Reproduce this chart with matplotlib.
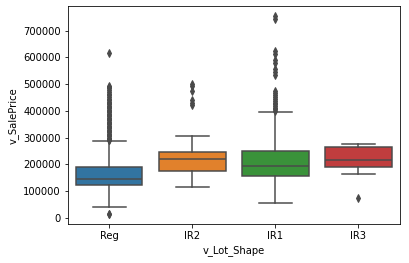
import matplotlib
matplotlib.use('Agg')
import matplotlib.pyplot as plt

# lot shape categories and box statistics of SalePrice
categories = ['Reg', 'IR2', 'IR1', 'IR3']
colors = ['#3274a1', '#e1812c', '#3a923a', '#c03d3e']
q1 = [122000, 177000, 156000, 190000]
med = [147000, 220000, 194000, 215000]
q3 = [190000, 247000, 252000, 265000]
whislo = [40000, 115000, 56000, 164000]
whishi = [287000, 306000, 395000, 278000]

fliers_reg = [12789, 16000, 615000, 495000, 490000, 485000, 478000, 470000, 465000,
              460000, 452000, 445000, 440000, 435000, 430000, 425000, 420000, 415000,
              410000, 405000, 400000, 395000, 390000, 385000, 380000, 375000, 370000,
              365000, 360000, 355000, 350000, 345000, 340000, 335000, 330000, 325000,
              320000, 315000, 310000, 305000, 300000, 296000, 292000, 290000]
fliers_ir2 = [502000, 495000, 475000, 440000, 430000, 423000]
fliers_ir1 = [755000, 745000, 625000, 612000, 590000, 580000, 555000, 545000, 535000,
              475000, 468000, 460000, 452000, 445000, 438000, 430000, 424000, 418000,
              412000, 406000, 400000]
fliers_ir3 = [75000]
fliers = [fliers_reg, fliers_ir2, fliers_ir1, fliers_ir3]

stats = []
for i, c in enumerate(categories):
    stats.append(dict(label=c, q1=q1[i], med=med[i], q3=q3[i],
                      whislo=whislo[i], whishi=whishi[i], fliers=fliers[i]))

gray = '#4a4a4a'
fig = plt.figure(figsize=(409/72, 263/72), dpi=72)
ax = fig.add_axes([0.1655, 0.147, 0.8125, 0.830])

bp = ax.bxp(stats, positions=range(len(categories)), widths=0.8, patch_artist=True,
            boxprops=dict(edgecolor=gray, linewidth=1.5),
            whiskerprops=dict(color=gray, linewidth=1.5),
            capprops=dict(color=gray, linewidth=1.5),
            medianprops=dict(color=gray, linewidth=1.5),
            flierprops=dict(marker='d', markerfacecolor=gray, markeredgecolor=gray,
                            markersize=5, linestyle='none'))
for patch, col in zip(bp['boxes'], colors):
    patch.set_facecolor(col)

ax.set_xlim(-0.5, 3.5)
ax.set_ylim(-24000, 792000)
ax.set_xticks(range(len(categories)))
ax.set_xticklabels(categories)
ax.set_xlabel('v_Lot_Shape')
ax.set_ylabel('v_SalePrice')

fig.savefig('out.png', dpi=72)
